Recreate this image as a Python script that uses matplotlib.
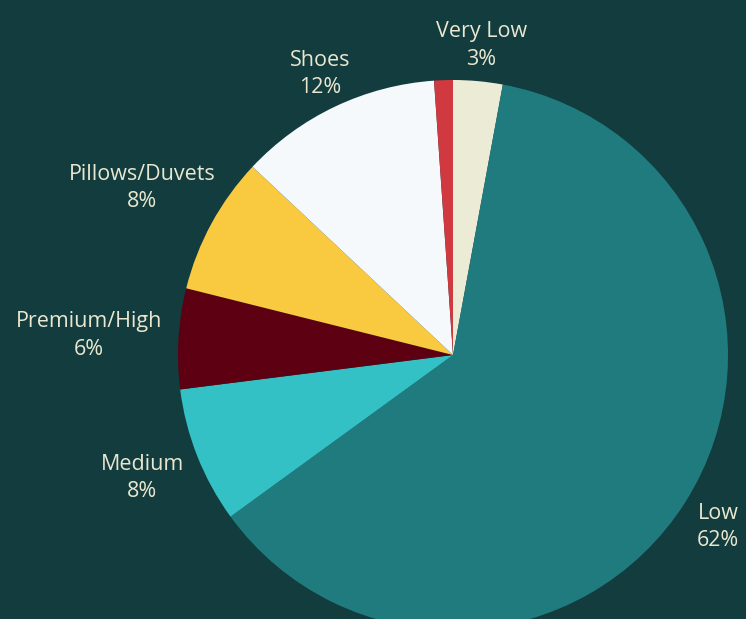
import numpy as np
import matplotlib
matplotlib.use("Agg")
import matplotlib.pyplot as plt

categories = ["Very Low", "Low", "Medium", "Premium/High", "Pillows/Duvets", "Shoes", "Other"]
values = [2.9, 62.1, 8.0, 5.9, 8.1, 11.9, 1.1]
pct_labels = ["3%", "62%", "8%", "6%", "8%", "12%", ""]
show_label = [True, True, True, True, True, True, False]
colors = ["#ecebd6", "#207b7e", "#33c1c6", "#5c0012", "#f9c940", "#f5f9fc", "#d0393f"]
# label nudges in pixels (layout only)
nudges = [(0, 0), (2, -6), (-22, -9), (-54, 1), (-38, 18), (0, 0), (0, 0)]

BG = "#123c3e"
TXT = "#e9e7cf"
W, H = 746, 619
cx, cy, R = 453, 355, 275

fig = plt.figure(figsize=(W / 100, H / 100), dpi=100, facecolor=BG)
ax = fig.add_axes([0, 0, 1, 1])
ax.set_facecolor(BG)

wedges, _ = ax.pie(values, colors=colors, startangle=90, counterclock=False,
                   radius=1.0, wedgeprops=dict(linewidth=0))
ax.set_aspect("auto")
ax.set_xlim(-cx / R, (W - cx) / R)
ax.set_ylim(-(H - cy) / R, cy / R)
ax.axis("off")

for w, name, pct, show, nd in zip(wedges, categories, pct_labels, show_label, nudges):
    if not show:
        continue
    ang = np.deg2rad((w.theta1 + w.theta2) / 2)
    d = 1.13
    x, y = d * np.cos(ang), d * np.sin(ang)
    ax.annotate(f"{name}\n{pct}", xy=(x, y), xytext=nd, textcoords="offset pixels",
                ha="center", va="center", color=TXT, fontsize=15.5,
                family=["Open Sans", "DejaVu Sans"], linespacing=1.38,
                multialignment="center", annotation_clip=False)

fig.savefig("out.png", dpi=100, facecolor=BG)
